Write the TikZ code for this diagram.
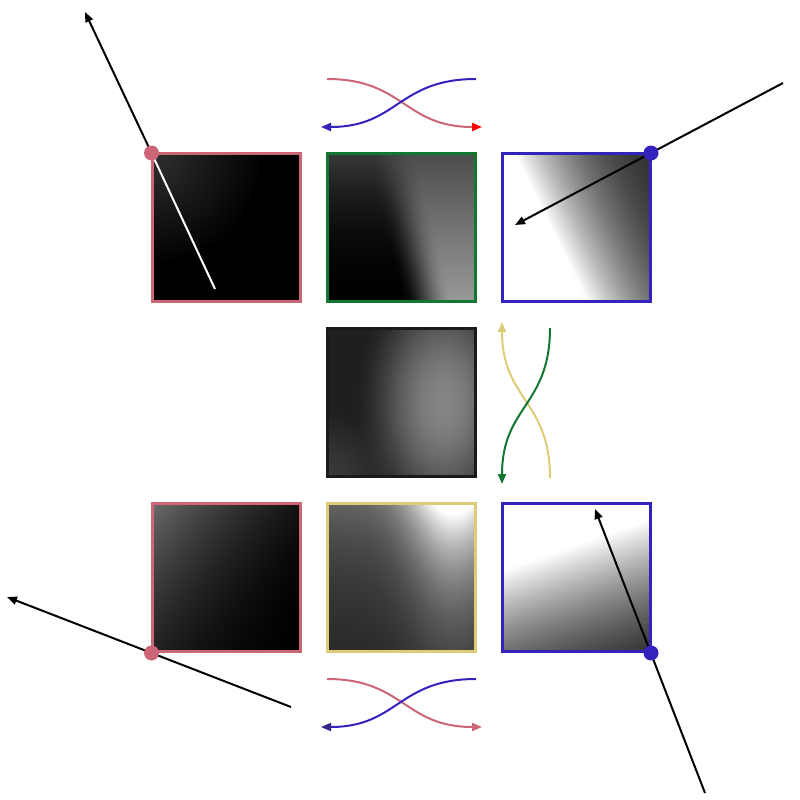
\documentclass[tikz,border=0pt]{standalone}
\usetikzlibrary{arrows.meta}
\definecolor{rose}{HTML}{CC6677}
\definecolor{indig}{HTML}{3322BB}
\definecolor{indigdark}{HTML}{332288}
\definecolor{tgreen}{HTML}{117733}
\definecolor{sand}{HTML}{DDCC77}
\definecolor{mborder}{HTML}{1A1A1A}
\pgfdeclarefunctionalshading{shTL}{\pgfpoint{0bp}{0bp}}{\pgfpoint{100bp}{100bp}}{}{
 75 exch sub 50 div exch 25 sub 50 div exch
 dup mul exch dup mul add sqrt 0.75 div 1 exch sub 0.19 mul
 dup 0 lt {pop 0} if dup 1 gt {pop 1} if dup dup}
\pgfdeclarefunctionalshading{shTM}{\pgfpoint{0bp}{0bp}}{\pgfpoint{100bp}{100bp}}{}{
 75 exch sub 50 div exch 25 sub 50 div exch
 exch 1 index 0.25 mul 0.25 add sub 0.35 div
 dup 0 lt {pop 0} if dup 1 gt {pop 1} if
 dup dup mul exch 2 mul 3 exch sub mul
 exch dup 1 exch sub dup mul 0.22 mul exch 0.3 mul 0.3 add 1 index sub
 3 -1 roll mul add
 dup 0 lt {pop 0} if dup 1 gt {pop 1} if dup dup}
\pgfdeclarefunctionalshading{shTR}{\pgfpoint{0bp}{0bp}}{\pgfpoint{100bp}{100bp}}{}{
 75 exch sub 50 div exch 25 sub 50 div exch
 0.49 mul sub 0.08 sub dup 0 lt {pop 0} if
 dup 0.837 mul 1.64 sub mul 1 add
 dup 0 lt {pop 0} if dup 1 gt {pop 1} if dup dup}
\pgfdeclarefunctionalshading{shMD}{\pgfpoint{0bp}{0bp}}{\pgfpoint{100bp}{100bp}}{}{
 75 exch sub 50 div exch 25 sub 50 div exch
 2 copy 0.5 sub dup mul 0.6 mul exch 0.78 sub dup mul 1.6 mul add
 0.6 div 1 exch sub dup 0 lt {pop 0} if dup mul 0.4 mul
 3 1 roll
 1 exch sub dup mul exch dup mul add 0.25 div 1 exch sub dup 0 lt {pop 0} if dup mul 0.1 mul
 add 0.12 add
 dup 0 lt {pop 0} if dup 1 gt {pop 1} if dup dup}
\pgfdeclarefunctionalshading{shBL}{\pgfpoint{0bp}{0bp}}{\pgfpoint{100bp}{100bp}}{}{
 75 exch sub 50 div exch 25 sub 50 div exch
 2 copy add 2 div 1 exch sub dup mul 0.42 mul
 3 1 roll exch sub 0.03 mul add
 dup 0 lt {pop 0} if dup 1 gt {pop 1} if dup dup}
\pgfdeclarefunctionalshading{shBM}{\pgfpoint{0bp}{0bp}}{\pgfpoint{100bp}{100bp}}{}{
 75 exch sub 50 div exch 25 sub 50 div exch
 -1.8 mul 2.71828 exch exp
 exch 0.85 sub dup mul -10.33 mul 2.71828 exch exp 0.73 mul 0.27 add
 mul 0.12 add
 dup 0 lt {pop 0} if dup 1 gt {pop 1} if dup dup}
\pgfdeclarefunctionalshading{shBR}{\pgfpoint{0bp}{0bp}}{\pgfpoint{100bp}{100bp}}{}{
 75 exch sub 50 div exch 25 sub 50 div exch
 exch 0.35 mul add 0.45 sub dup 0 lt {pop 0} if
 dup 0.368 mul 1.22 sub mul 1 add
 dup 0 lt {pop 0} if dup 1 gt {pop 1} if dup dup}
\tikzset{
  panel/.style={rectangle, minimum size=148.5pt, inner sep=0pt, line width=3pt},
  dotmark/.style={circle, inner sep=0pt, minimum size=15pt},
  ray/.style={line width=2pt, black},
  tip/.style={-{Triangle[length=10pt,width=8pt]}},
  swap/.style={line width=2pt},
}
\begin{document}
\begin{tikzpicture}[x=1pt,y=-1pt]
\useasboundingbox (0,0) rectangle (800,800);
% panels
\node[panel, draw=rose, shading=shTL] (sqTL) at (226.5,227.5) {};
\node[panel, draw=tgreen, shading=shTM] (sqTM) at (401.5,227.5) {};
\node[panel, draw=indig, shading=shTR] (sqTR) at (576.5,227.5) {};
\node[panel, draw=mborder, shading=shMD] (sqMD) at (401.5,402.5) {};
\node[panel, draw=rose, shading=shBL] (sqBL) at (226.5,577.5) {};
\node[panel, draw=sand, shading=shBM] (sqBM) at (401.5,577.5) {};
\node[panel, draw=indig, shading=shBR] (sqBR) at (576.5,577.5) {};
% corner marks
\coordinate (cTL) at (151.5,153);
\coordinate (cTR) at (651,153);
\coordinate (cBL) at (151.5,653);
\coordinate (cBR) at (651,653);
% ray end points
\coordinate (wTL) at (215,289);
\coordinate (aTL) at (85,12);
\coordinate (sTR) at (783,83);
\coordinate (aTR) at (515,225);
\coordinate (sBL) at (291,707);
\coordinate (aBL) at (7,597);
\coordinate (sBR) at (705,793);
\coordinate (aBR) at (595,509);
% rays
\draw[line width=2pt, white] (cTL) -- (wTL);
\draw[ray, tip] (cTL) -- (aTL);
\draw[ray, tip] (sTR) -- (aTR);
\draw[ray, tip] (sBL) -- (aBL);
\draw[ray, tip] (sBR) -- (aBR);
% dots
\node[dotmark, fill=rose] (dTL) at (cTL) {};
\node[dotmark, fill=indig] (dTR) at (cTR) {};
\node[dotmark, fill=rose] (dBL) at (cBL) {};
\node[dotmark, fill=indig] (dBR) at (cBR) {};
% top swap
\coordinate (t1) at (327,79);
\coordinate (t2) at (482,127);
\coordinate (t3) at (476,79);
\coordinate (t4) at (321,127);
\draw[swap, rose, -{Triangle[length=10pt,width=8pt,fill=red,color=red]}] (t1) .. controls (404,79) and (404,127) .. (t2);
\draw[swap, indig, tip] (t3) .. controls (398,79) and (398,127) .. (t4);
% middle swap
\coordinate (m1) at (550,478);
\coordinate (m2) at (502,322);
\coordinate (m3) at (550,328);
\coordinate (m4) at (502,484);
\draw[swap, sand, tip] (m1) .. controls (550,400) and (502,400) .. (m2);
\draw[swap, tgreen, tip] (m3) .. controls (550,406) and (502,406) .. (m4);
% bottom swap
\coordinate (b1) at (327,679);
\coordinate (b2) at (482,727);
\coordinate (b3) at (476,679);
\coordinate (b4) at (321,727);
\draw[swap, rose, tip] (b1) .. controls (404,679) and (404,727) .. (b2);
\draw[swap, indig, -{Triangle[length=10pt,width=8pt,fill=indigdark,color=indigdark]}] (b3) .. controls (398,679) and (398,727) .. (b4);
\end{tikzpicture}
\end{document}
